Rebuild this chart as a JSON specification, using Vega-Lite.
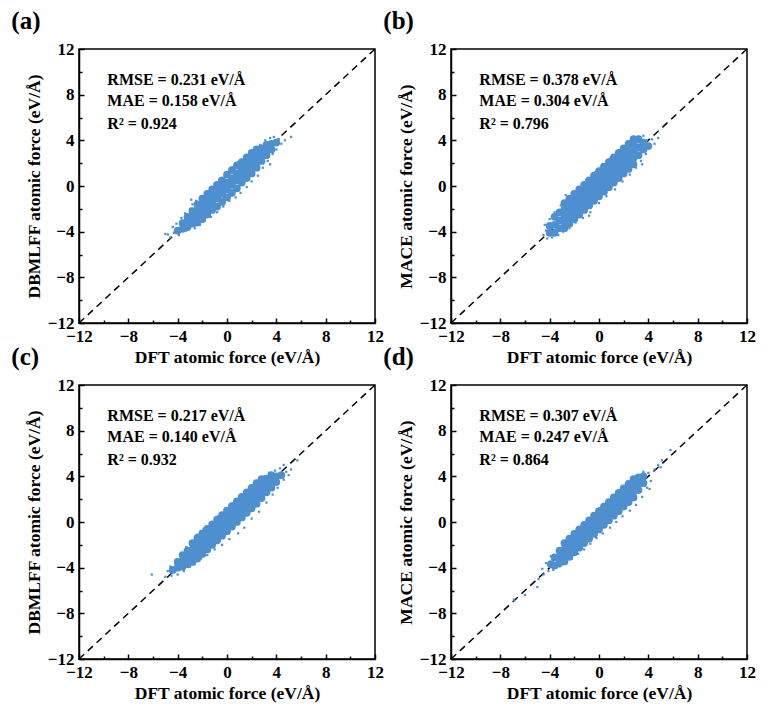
{
  "$schema": "https://vega.github.io/schema/vega-lite/v6.json",
  "description": "Parity plots of predicted vs DFT atomic forces",
  "padding": {"left": 10, "top": 8, "right": 5, "bottom": 5},
  "datasets": {
    "diag": [{"x": -12, "y": -12}, {"x": 12, "y": 12}],
    "a_txt": [
      {"x": -9.7, "y": 9.3, "t": "RMSE = 0.231 eV/Å"},
      {"x": -9.7, "y": 7.45, "t": "MAE = 0.158 eV/Å"},
      {"x": -9.7, "y": 5.45, "t": "R² = 0.924"}
    ],
    "b_txt": [
      {"x": -9.7, "y": 9.3, "t": "RMSE = 0.378 eV/Å"},
      {"x": -9.7, "y": 7.45, "t": "MAE = 0.304 eV/Å"},
      {"x": -9.7, "y": 5.45, "t": "R² = 0.796"}
    ],
    "c_txt": [
      {"x": -9.7, "y": 9.3, "t": "RMSE = 0.217 eV/Å"},
      {"x": -9.7, "y": 7.45, "t": "MAE = 0.140 eV/Å"},
      {"x": -9.7, "y": 5.45, "t": "R² = 0.932"}
    ],
    "d_txt": [
      {"x": -9.7, "y": 9.3, "t": "RMSE = 0.307 eV/Å"},
      {"x": -9.7, "y": 7.45, "t": "MAE = 0.247 eV/Å"},
      {"x": -9.7, "y": 5.45, "t": "R² = 0.864"}
    ],
    "a_core": [
      {"x": -4, "y": -3.9},
      {"x": -3.6, "y": -3.75}, {"x": -3.6, "y": -3.25},
      {"x": -3.2, "y": -3.6}, {"x": -3.2, "y": -3.1}, {"x": -3.2, "y": -2.7},
      {"x": -2.8, "y": -3.3}, {"x": -2.8, "y": -2.8}, {"x": -2.8, "y": -2.2},
      {"x": -2.4, "y": -3.2}, {"x": -2.4, "y": -2.7}, {"x": -2.4, "y": -2.1}, {"x": -2.4, "y": -1.6},
      {"x": -2, "y": -2.9}, {"x": -2, "y": -2.3}, {"x": -2, "y": -1.7}, {"x": -2, "y": -1.1},
      {"x": -1.6, "y": -2.5}, {"x": -1.6, "y": -1.9}, {"x": -1.6, "y": -1.3}, {"x": -1.6, "y": -0.7},
      {"x": -1.2, "y": -2.1}, {"x": -1.2, "y": -1.5}, {"x": -1.2, "y": -0.9}, {"x": -1.2, "y": -0.3},
      {"x": -0.8, "y": -1.8}, {"x": -0.8, "y": -1.1}, {"x": -0.8, "y": -0.5}, {"x": -0.8, "y": 0.1},
      {"x": -0.4, "y": -1.4}, {"x": -0.4, "y": -0.7}, {"x": -0.4, "y": -0.1}, {"x": -0.4, "y": 0.5},
      {"x": 0, "y": -1.0}, {"x": 0, "y": -0.3}, {"x": 0, "y": 0.3}, {"x": 0, "y": 1.0},
      {"x": 0.4, "y": -0.6}, {"x": 0.4, "y": 0.1}, {"x": 0.4, "y": 0.7}, {"x": 0.4, "y": 1.4},
      {"x": 0.8, "y": -0.2}, {"x": 0.8, "y": 0.5}, {"x": 0.8, "y": 1.1}, {"x": 0.8, "y": 1.8},
      {"x": 1.2, "y": 0.3}, {"x": 1.2, "y": 0.9}, {"x": 1.2, "y": 1.5}, {"x": 1.2, "y": 2.1},
      {"x": 1.6, "y": 0.7}, {"x": 1.6, "y": 1.3}, {"x": 1.6, "y": 1.9}, {"x": 1.6, "y": 2.5},
      {"x": 2, "y": 1.1}, {"x": 2, "y": 1.7}, {"x": 2, "y": 2.3}, {"x": 2, "y": 2.9},
      {"x": 2.4, "y": 1.6}, {"x": 2.4, "y": 2.1}, {"x": 2.4, "y": 2.7}, {"x": 2.4, "y": 3.2},
      {"x": 2.8, "y": 2.2}, {"x": 2.8, "y": 2.8}, {"x": 2.8, "y": 3.3},
      {"x": 3.2, "y": 2.7}, {"x": 3.2, "y": 3.1}, {"x": 3.2, "y": 3.6},
      {"x": 3.6, "y": 3.2}, {"x": 3.6, "y": 3.7},
      {"x": 4, "y": 3.8}
    ],
    "a_edge": [
      {"x": -5.0, "y": -4.2}, {"x": -4.8, "y": -4.25}, {"x": -4.6, "y": -4.5}, {"x": -4.4, "y": -3.6},
      {"x": -4.3, "y": -4.1}, {"x": -4.1, "y": -3.3}, {"x": -3.9, "y": -4.3}, {"x": -3.7, "y": -2.8},
      {"x": -3.4, "y": -2.4}, {"x": -3.3, "y": -3.9}, {"x": -3.0, "y": -2.0}, {"x": -2.8, "y": -1.6},
      {"x": -2.6, "y": -3.7}, {"x": -2.5, "y": -1.3}, {"x": -2.2, "y": -3.4}, {"x": -2.0, "y": -0.9},
      {"x": -1.8, "y": -3.0}, {"x": -1.5, "y": -0.5}, {"x": -1.3, "y": -2.7}, {"x": -1.0, "y": 0.2},
      {"x": -0.8, "y": -2.3}, {"x": -0.6, "y": 0.6}, {"x": -0.3, "y": -1.8}, {"x": -0.1, "y": 1.1},
      {"x": 0.2, "y": -1.3}, {"x": 0.5, "y": 1.6}, {"x": 0.7, "y": -1.0}, {"x": 0.9, "y": 2.1},
      {"x": 1.1, "y": -0.6}, {"x": 1.4, "y": 2.5}, {"x": 1.6, "y": -0.1}, {"x": 1.8, "y": 2.9},
      {"x": 2.0, "y": 0.4}, {"x": 2.3, "y": 3.3}, {"x": 2.5, "y": 0.9}, {"x": 2.7, "y": 3.6},
      {"x": 2.9, "y": 1.6}, {"x": 3.1, "y": 4.0}, {"x": 3.3, "y": 2.2}, {"x": 3.5, "y": 4.2},
      {"x": 3.7, "y": 2.8}, {"x": 3.8, "y": 4.3}, {"x": 4.0, "y": 3.2}, {"x": 4.2, "y": 4.1},
      {"x": 4.4, "y": 3.7}, {"x": 4.7, "y": 4.0}, {"x": 5.2, "y": 4.3}, {"x": 3.5, "y": 1.9},
      {"x": -2.9, "y": -1.2}
    ],
    "b_core": [
      {"x": -4, "y": -4.1}, {"x": -4, "y": -3.5},
      {"x": -3.6, "y": -4.1}, {"x": -3.6, "y": -3.4}, {"x": -3.6, "y": -2.7},
      {"x": -3.2, "y": -3.7}, {"x": -3.2, "y": -3.0}, {"x": -3.2, "y": -2.3},
      {"x": -2.8, "y": -3.7}, {"x": -2.8, "y": -3.15}, {"x": -2.8, "y": -2.6}, {"x": -2.8, "y": -2.05}, {"x": -2.8, "y": -1.5},
      {"x": -2.4, "y": -3.3}, {"x": -2.4, "y": -2.75}, {"x": -2.4, "y": -2.2}, {"x": -2.4, "y": -1.65}, {"x": -2.4, "y": -1.1},
      {"x": -2, "y": -2.9}, {"x": -2, "y": -2.35}, {"x": -2, "y": -1.8}, {"x": -2, "y": -1.25}, {"x": -2, "y": -0.7},
      {"x": -1.6, "y": -2.5}, {"x": -1.6, "y": -1.95}, {"x": -1.6, "y": -1.4}, {"x": -1.6, "y": -0.85}, {"x": -1.6, "y": -0.3},
      {"x": -1.2, "y": -2.1}, {"x": -1.2, "y": -1.55}, {"x": -1.2, "y": -1.0}, {"x": -1.2, "y": -0.45}, {"x": -1.2, "y": 0.1},
      {"x": -0.8, "y": -1.7}, {"x": -0.8, "y": -1.15}, {"x": -0.8, "y": -0.6}, {"x": -0.8, "y": -0.05}, {"x": -0.8, "y": 0.5},
      {"x": -0.4, "y": -1.3}, {"x": -0.4, "y": -0.75}, {"x": -0.4, "y": -0.2}, {"x": -0.4, "y": 0.35}, {"x": -0.4, "y": 0.9},
      {"x": 0, "y": -0.9}, {"x": 0, "y": -0.35}, {"x": 0, "y": 0.2}, {"x": 0, "y": 0.75}, {"x": 0, "y": 1.3},
      {"x": 0.4, "y": -0.5}, {"x": 0.4, "y": 0.05}, {"x": 0.4, "y": 0.6}, {"x": 0.4, "y": 1.15}, {"x": 0.4, "y": 1.7},
      {"x": 0.8, "y": -0.1}, {"x": 0.8, "y": 0.45}, {"x": 0.8, "y": 1.0}, {"x": 0.8, "y": 1.55}, {"x": 0.8, "y": 2.1},
      {"x": 1.2, "y": 0.3}, {"x": 1.2, "y": 0.85}, {"x": 1.2, "y": 1.4}, {"x": 1.2, "y": 1.95}, {"x": 1.2, "y": 2.5},
      {"x": 1.6, "y": 0.7}, {"x": 1.6, "y": 1.25}, {"x": 1.6, "y": 1.8}, {"x": 1.6, "y": 2.35}, {"x": 1.6, "y": 2.9},
      {"x": 2, "y": 1.1}, {"x": 2, "y": 1.65}, {"x": 2, "y": 2.2}, {"x": 2, "y": 2.75}, {"x": 2, "y": 3.3},
      {"x": 2.4, "y": 1.5}, {"x": 2.4, "y": 2.05}, {"x": 2.4, "y": 2.6}, {"x": 2.4, "y": 3.15}, {"x": 2.4, "y": 3.7},
      {"x": 2.8, "y": 1.9}, {"x": 2.8, "y": 2.45}, {"x": 2.8, "y": 3.0}, {"x": 2.8, "y": 3.55}, {"x": 2.8, "y": 4.1},
      {"x": 3.2, "y": 2.7}, {"x": 3.2, "y": 3.4}, {"x": 3.2, "y": 4.1},
      {"x": 3.6, "y": 3.2}, {"x": 3.6, "y": 3.8},
      {"x": 4, "y": 3.5}
    ],
    "b_edge": [
      {"x": -4.5, "y": -4.3}, {"x": -4.4, "y": -3.4}, {"x": -4.3, "y": -3.9}, {"x": -4.2, "y": -4.6},
      {"x": -4.0, "y": -2.9}, {"x": -3.8, "y": -4.5}, {"x": -3.6, "y": -2.3}, {"x": -3.3, "y": -4.3},
      {"x": -3.1, "y": -1.7}, {"x": -2.9, "y": -4.0}, {"x": -2.6, "y": -1.2}, {"x": -2.4, "y": -3.7},
      {"x": -2.1, "y": -0.6}, {"x": -1.9, "y": -3.2}, {"x": -1.6, "y": -0.1}, {"x": -1.3, "y": -2.8},
      {"x": -1.0, "y": 0.5}, {"x": -0.7, "y": -2.3}, {"x": -0.3, "y": 1.2}, {"x": 0.0, "y": -1.5},
      {"x": 0.3, "y": 1.8}, {"x": 0.6, "y": -0.9}, {"x": 0.9, "y": 2.4}, {"x": 1.3, "y": -0.3},
      {"x": 1.5, "y": 2.9}, {"x": 1.9, "y": 0.4}, {"x": 2.1, "y": 3.4}, {"x": 2.5, "y": 1.0},
      {"x": 2.7, "y": 3.9}, {"x": 3.0, "y": 1.6}, {"x": 3.2, "y": 4.3}, {"x": 3.4, "y": 2.2},
      {"x": 3.6, "y": 4.4}, {"x": 3.8, "y": 2.8}, {"x": 3.9, "y": 4.0}, {"x": 4.1, "y": 3.4},
      {"x": 4.3, "y": 4.1}, {"x": 4.5, "y": 3.7}, {"x": 4.8, "y": 4.2}, {"x": 3.5, "y": 1.9},
      {"x": -0.8, "y": -2.6}, {"x": -2.7, "y": -0.8}
    ],
    "c_core": [
      {"x": -4.4, "y": -4.2},
      {"x": -4, "y": -4.0}, {"x": -4, "y": -3.5},
      {"x": -3.6, "y": -3.9}, {"x": -3.6, "y": -3.4}, {"x": -3.6, "y": -2.9},
      {"x": -3.2, "y": -3.7}, {"x": -3.2, "y": -3.1}, {"x": -3.2, "y": -2.5},
      {"x": -2.8, "y": -3.5}, {"x": -2.8, "y": -2.95}, {"x": -2.8, "y": -2.4}, {"x": -2.8, "y": -1.85},
      {"x": -2.4, "y": -3.2}, {"x": -2.4, "y": -2.6}, {"x": -2.4, "y": -2.0}, {"x": -2.4, "y": -1.4},
      {"x": -2, "y": -2.8}, {"x": -2, "y": -2.2}, {"x": -2, "y": -1.6}, {"x": -2, "y": -1.0},
      {"x": -1.6, "y": -2.4}, {"x": -1.6, "y": -1.8}, {"x": -1.6, "y": -1.2}, {"x": -1.6, "y": -0.6},
      {"x": -1.2, "y": -2.0}, {"x": -1.2, "y": -1.4}, {"x": -1.2, "y": -0.8}, {"x": -1.2, "y": -0.2},
      {"x": -0.8, "y": -1.6}, {"x": -0.8, "y": -1.0}, {"x": -0.8, "y": -0.4}, {"x": -0.8, "y": 0.2},
      {"x": -0.4, "y": -1.2}, {"x": -0.4, "y": -0.6}, {"x": -0.4, "y": 0.0}, {"x": -0.4, "y": 0.6},
      {"x": 0, "y": -0.8}, {"x": 0, "y": -0.2}, {"x": 0, "y": 0.4}, {"x": 0, "y": 1.0},
      {"x": 0.4, "y": -0.4}, {"x": 0.4, "y": 0.2}, {"x": 0.4, "y": 0.8}, {"x": 0.4, "y": 1.4},
      {"x": 0.8, "y": 0.0}, {"x": 0.8, "y": 0.6}, {"x": 0.8, "y": 1.2}, {"x": 0.8, "y": 1.8},
      {"x": 1.2, "y": 0.4}, {"x": 1.2, "y": 1.0}, {"x": 1.2, "y": 1.6}, {"x": 1.2, "y": 2.2},
      {"x": 1.6, "y": 0.8}, {"x": 1.6, "y": 1.4}, {"x": 1.6, "y": 2.0}, {"x": 1.6, "y": 2.6},
      {"x": 2, "y": 1.2}, {"x": 2, "y": 1.8}, {"x": 2, "y": 2.4}, {"x": 2, "y": 3.0},
      {"x": 2.4, "y": 1.6}, {"x": 2.4, "y": 2.2}, {"x": 2.4, "y": 2.8}, {"x": 2.4, "y": 3.4},
      {"x": 2.8, "y": 2.1}, {"x": 2.8, "y": 2.65}, {"x": 2.8, "y": 3.2}, {"x": 2.8, "y": 3.75},
      {"x": 3.2, "y": 2.6}, {"x": 3.2, "y": 3.2}, {"x": 3.2, "y": 3.8},
      {"x": 3.6, "y": 3.0}, {"x": 3.6, "y": 3.6}, {"x": 3.6, "y": 4.1},
      {"x": 4, "y": 3.5}, {"x": 4, "y": 4.0},
      {"x": 4.4, "y": 4.1}
    ],
    "c_edge": [
      {"x": -6.1, "y": -4.6}, {"x": -5.0, "y": -4.8}, {"x": -4.8, "y": -4.3}, {"x": -4.6, "y": -3.9},
      {"x": -4.5, "y": -4.7}, {"x": -4.2, "y": -3.4}, {"x": -4.0, "y": -4.6}, {"x": -3.8, "y": -2.8},
      {"x": -3.5, "y": -4.3}, {"x": -3.3, "y": -2.2}, {"x": -3.0, "y": -3.9}, {"x": -2.9, "y": -1.8},
      {"x": -2.6, "y": -3.6}, {"x": -2.4, "y": -1.1}, {"x": -2.1, "y": -3.2}, {"x": -1.9, "y": -0.6},
      {"x": -1.6, "y": -2.9}, {"x": -1.3, "y": 0.0}, {"x": -1.0, "y": -2.4}, {"x": -0.7, "y": 0.5},
      {"x": -0.4, "y": -2.0}, {"x": -0.1, "y": 1.0}, {"x": 0.2, "y": -1.5}, {"x": 0.5, "y": 1.6},
      {"x": 0.9, "y": -1.0}, {"x": 1.1, "y": 2.2}, {"x": 1.4, "y": -0.5}, {"x": 1.7, "y": 2.8},
      {"x": 2.0, "y": 0.3}, {"x": 2.3, "y": 3.3}, {"x": 2.6, "y": 0.9}, {"x": 2.9, "y": 3.9},
      {"x": 3.2, "y": 1.7}, {"x": 3.4, "y": 4.3}, {"x": 3.7, "y": 2.4}, {"x": 3.9, "y": 4.5},
      {"x": 4.1, "y": 3.0}, {"x": 4.3, "y": 4.7}, {"x": 4.6, "y": 3.7}, {"x": 4.8, "y": 4.4},
      {"x": 5.0, "y": 4.1}, {"x": 5.2, "y": 4.6}, {"x": 5.7, "y": 5.4}, {"x": 4.6, "y": 5.0}
    ],
    "d_core": [
      {"x": -3.9, "y": -3.7},
      {"x": -3.6, "y": -3.8}, {"x": -3.6, "y": -3.1},
      {"x": -3.2, "y": -3.6}, {"x": -3.2, "y": -3.05}, {"x": -3.2, "y": -2.5},
      {"x": -2.8, "y": -3.45}, {"x": -2.8, "y": -2.9}, {"x": -2.8, "y": -2.4}, {"x": -2.8, "y": -1.85},
      {"x": -2.4, "y": -3.05}, {"x": -2.4, "y": -2.5}, {"x": -2.4, "y": -2.0}, {"x": -2.4, "y": -1.45},
      {"x": -2, "y": -2.65}, {"x": -2, "y": -2.1}, {"x": -2, "y": -1.6}, {"x": -2, "y": -1.05},
      {"x": -1.6, "y": -2.25}, {"x": -1.6, "y": -1.7}, {"x": -1.6, "y": -1.2}, {"x": -1.6, "y": -0.65},
      {"x": -1.2, "y": -1.85}, {"x": -1.2, "y": -1.3}, {"x": -1.2, "y": -0.8}, {"x": -1.2, "y": -0.25},
      {"x": -0.8, "y": -1.45}, {"x": -0.8, "y": -0.9}, {"x": -0.8, "y": -0.4}, {"x": -0.8, "y": 0.15},
      {"x": -0.4, "y": -1.05}, {"x": -0.4, "y": -0.5}, {"x": -0.4, "y": 0.0}, {"x": -0.4, "y": 0.55},
      {"x": 0, "y": -0.65}, {"x": 0, "y": -0.1}, {"x": 0, "y": 0.4}, {"x": 0, "y": 0.95},
      {"x": 0.4, "y": -0.25}, {"x": 0.4, "y": 0.3}, {"x": 0.4, "y": 0.8}, {"x": 0.4, "y": 1.35},
      {"x": 0.8, "y": 0.15}, {"x": 0.8, "y": 0.7}, {"x": 0.8, "y": 1.2}, {"x": 0.8, "y": 1.75},
      {"x": 1.2, "y": 0.55}, {"x": 1.2, "y": 1.1}, {"x": 1.2, "y": 1.6}, {"x": 1.2, "y": 2.15},
      {"x": 1.6, "y": 0.95}, {"x": 1.6, "y": 1.5}, {"x": 1.6, "y": 2.0}, {"x": 1.6, "y": 2.55},
      {"x": 2, "y": 1.35}, {"x": 2, "y": 1.9}, {"x": 2, "y": 2.4}, {"x": 2, "y": 2.95},
      {"x": 2.4, "y": 1.75}, {"x": 2.4, "y": 2.3}, {"x": 2.4, "y": 2.8}, {"x": 2.4, "y": 3.35},
      {"x": 2.8, "y": 2.15}, {"x": 2.8, "y": 2.7}, {"x": 2.8, "y": 3.2}, {"x": 2.8, "y": 3.75},
      {"x": 3.2, "y": 2.8}, {"x": 3.2, "y": 3.35}, {"x": 3.2, "y": 3.9},
      {"x": 3.6, "y": 3.4}, {"x": 3.6, "y": 4.0}
    ],
    "d_edge": [
      {"x": -6.9, "y": -6.8}, {"x": -6.0, "y": -6.4}, {"x": -5.0, "y": -5.7}, {"x": -4.9, "y": -5.0},
      {"x": -4.6, "y": -4.1}, {"x": -4.5, "y": -4.6}, {"x": -4.3, "y": -3.6}, {"x": -4.1, "y": -4.3},
      {"x": -3.9, "y": -3.0}, {"x": -3.7, "y": -4.2}, {"x": -3.4, "y": -2.5}, {"x": -3.2, "y": -3.9},
      {"x": -2.9, "y": -1.9}, {"x": -2.7, "y": -3.6}, {"x": -2.4, "y": -1.4}, {"x": -2.2, "y": -3.2},
      {"x": -1.9, "y": -0.9}, {"x": -1.7, "y": -2.8}, {"x": -1.4, "y": -0.4}, {"x": -1.2, "y": -2.4},
      {"x": -0.9, "y": 0.2}, {"x": -0.7, "y": -1.9}, {"x": -0.4, "y": 0.7}, {"x": -0.2, "y": -1.4},
      {"x": 0.1, "y": 1.2}, {"x": 0.3, "y": -1.0}, {"x": 0.6, "y": 1.7}, {"x": 0.9, "y": -0.5},
      {"x": 1.1, "y": 2.2}, {"x": 1.4, "y": 0.0}, {"x": 1.7, "y": 2.7}, {"x": 1.9, "y": 0.5},
      {"x": 2.2, "y": 3.2}, {"x": 2.5, "y": 1.0}, {"x": 2.7, "y": 3.7}, {"x": 3.0, "y": 1.5},
      {"x": 3.2, "y": 4.1}, {"x": 3.5, "y": 2.2}, {"x": 3.6, "y": 4.4}, {"x": 3.9, "y": 3.0},
      {"x": 4.0, "y": 4.3}, {"x": 4.2, "y": 3.6}, {"x": 4.5, "y": 4.6}, {"x": 4.8, "y": 5.0},
      {"x": 5.1, "y": 5.4}, {"x": 5.0, "y": 4.8}, {"x": 5.8, "y": 6.3}, {"x": 4.1, "y": 2.9}
    ]
  },
  "columns": 2,
  "spacing": {"column": 76, "row": 62},
  "bounds": "flush",
  "concat": [
    {
      "title": "(a)",
      "width": 296,
      "height": 274,
      "layer": [
        {
          "data": {"name": "diag"},
          "mark": {"type": "line", "color": "black", "strokeWidth": 1.5, "strokeDash": [7, 5]},
          "encoding": {
            "x": {"field": "x", "type": "quantitative", "scale": {"domain": [-12, 12]}, "axis": {"values": [-10, -6, -2, 2, 6, 10], "orient": "bottom", "labels": false, "domain": false, "tickSize": -3, "title": null}},
            "y": {"field": "y", "type": "quantitative", "scale": {"domain": [-12, 12]}, "axis": {"values": [-10, -6, -2, 2, 6, 10], "orient": "left", "labels": false, "domain": false, "tickSize": -3, "title": null}}
          }
        },
        {
          "data": {"name": "a_core"},
          "mark": {"type": "circle", "size": 60, "color": "#4e8fd0", "opacity": 1},
          "encoding": {
            "x": {"field": "x", "type": "quantitative",
                  "axis": {"orient": "bottom", "values": [-12, -8, -4, 0, 4, 8, 12], "title": "DFT atomic force (eV/Å)"}},
            "y": {"field": "y", "type": "quantitative",
                  "axis": {"orient": "left", "values": [-12, -8, -4, 0, 4, 8, 12], "title": "DBMLFF atomic force (eV/Å)"}}
          }
        },
        {
          "data": {"name": "a_edge"},
          "mark": {"type": "square", "size": 5, "color": "#4e8fd0", "opacity": 1},
          "encoding": {
            "x": {"field": "x", "type": "quantitative", "axis": null},
            "y": {"field": "y", "type": "quantitative", "axis": null}
          }
        },
        {
          "data": {"name": "a_txt"},
          "mark": {"type": "text", "align": "left", "baseline": "middle", "font": "Liberation Serif", "fontSize": 16, "fontWeight": "bold", "color": "black"},
          "encoding": {
            "x": {"field": "x", "type": "quantitative", "axis": null},
            "y": {"field": "y", "type": "quantitative", "axis": null},
            "text": {"field": "t"}
          }
        }
      ],
      "resolve": {"axis": {"x": "independent", "y": "independent"}}
    },
    {
      "title": "(b)",
      "width": 296,
      "height": 274,
      "layer": [
        {
          "data": {"name": "diag"},
          "mark": {"type": "line", "color": "black", "strokeWidth": 1.5, "strokeDash": [7, 5]},
          "encoding": {
            "x": {"field": "x", "type": "quantitative", "scale": {"domain": [-12, 12]}, "axis": {"values": [-10, -6, -2, 2, 6, 10], "orient": "bottom", "labels": false, "domain": false, "tickSize": -3, "title": null}},
            "y": {"field": "y", "type": "quantitative", "scale": {"domain": [-12, 12]}, "axis": {"values": [-10, -6, -2, 2, 6, 10], "orient": "left", "labels": false, "domain": false, "tickSize": -3, "title": null}}
          }
        },
        {
          "data": {"name": "b_core"},
          "mark": {"type": "circle", "size": 60, "color": "#4e8fd0", "opacity": 1},
          "encoding": {
            "x": {"field": "x", "type": "quantitative",
                  "axis": {"orient": "bottom", "values": [-12, -8, -4, 0, 4, 8, 12], "title": "DFT atomic force (eV/Å)"}},
            "y": {"field": "y", "type": "quantitative",
                  "axis": {"orient": "left", "values": [-12, -8, -4, 0, 4, 8, 12], "title": "MACE atomic force (eV/Å)"}}
          }
        },
        {
          "data": {"name": "b_edge"},
          "mark": {"type": "square", "size": 5, "color": "#4e8fd0", "opacity": 1},
          "encoding": {
            "x": {"field": "x", "type": "quantitative", "axis": null},
            "y": {"field": "y", "type": "quantitative", "axis": null}
          }
        },
        {
          "data": {"name": "b_txt"},
          "mark": {"type": "text", "align": "left", "baseline": "middle", "font": "Liberation Serif", "fontSize": 16, "fontWeight": "bold", "color": "black"},
          "encoding": {
            "x": {"field": "x", "type": "quantitative", "axis": null},
            "y": {"field": "y", "type": "quantitative", "axis": null},
            "text": {"field": "t"}
          }
        }
      ],
      "resolve": {"axis": {"x": "independent", "y": "independent"}}
    },
    {
      "title": "(c)",
      "width": 296,
      "height": 274,
      "layer": [
        {
          "data": {"name": "diag"},
          "mark": {"type": "line", "color": "black", "strokeWidth": 1.5, "strokeDash": [7, 5]},
          "encoding": {
            "x": {"field": "x", "type": "quantitative", "scale": {"domain": [-12, 12]}, "axis": {"values": [-10, -6, -2, 2, 6, 10], "orient": "bottom", "labels": false, "domain": false, "tickSize": -3, "title": null}},
            "y": {"field": "y", "type": "quantitative", "scale": {"domain": [-12, 12]}, "axis": {"values": [-10, -6, -2, 2, 6, 10], "orient": "left", "labels": false, "domain": false, "tickSize": -3, "title": null}}
          }
        },
        {
          "data": {"name": "c_core"},
          "mark": {"type": "circle", "size": 60, "color": "#4e8fd0", "opacity": 1},
          "encoding": {
            "x": {"field": "x", "type": "quantitative",
                  "axis": {"orient": "bottom", "values": [-12, -8, -4, 0, 4, 8, 12], "title": "DFT atomic force (eV/Å)"}},
            "y": {"field": "y", "type": "quantitative",
                  "axis": {"orient": "left", "values": [-12, -8, -4, 0, 4, 8, 12], "title": "DBMLFF atomic force (eV/Å)"}}
          }
        },
        {
          "data": {"name": "c_edge"},
          "mark": {"type": "square", "size": 5, "color": "#4e8fd0", "opacity": 1},
          "encoding": {
            "x": {"field": "x", "type": "quantitative", "axis": null},
            "y": {"field": "y", "type": "quantitative", "axis": null}
          }
        },
        {
          "data": {"name": "c_txt"},
          "mark": {"type": "text", "align": "left", "baseline": "middle", "font": "Liberation Serif", "fontSize": 16, "fontWeight": "bold", "color": "black"},
          "encoding": {
            "x": {"field": "x", "type": "quantitative", "axis": null},
            "y": {"field": "y", "type": "quantitative", "axis": null},
            "text": {"field": "t"}
          }
        }
      ],
      "resolve": {"axis": {"x": "independent", "y": "independent"}}
    },
    {
      "title": "(d)",
      "width": 296,
      "height": 274,
      "layer": [
        {
          "data": {"name": "diag"},
          "mark": {"type": "line", "color": "black", "strokeWidth": 1.5, "strokeDash": [7, 5]},
          "encoding": {
            "x": {"field": "x", "type": "quantitative", "scale": {"domain": [-12, 12]}, "axis": {"values": [-10, -6, -2, 2, 6, 10], "orient": "bottom", "labels": false, "domain": false, "tickSize": -3, "title": null}},
            "y": {"field": "y", "type": "quantitative", "scale": {"domain": [-12, 12]}, "axis": {"values": [-10, -6, -2, 2, 6, 10], "orient": "left", "labels": false, "domain": false, "tickSize": -3, "title": null}}
          }
        },
        {
          "data": {"name": "d_core"},
          "mark": {"type": "circle", "size": 60, "color": "#4e8fd0", "opacity": 1},
          "encoding": {
            "x": {"field": "x", "type": "quantitative",
                  "axis": {"orient": "bottom", "values": [-12, -8, -4, 0, 4, 8, 12], "title": "DFT atomic force (eV/Å)"}},
            "y": {"field": "y", "type": "quantitative",
                  "axis": {"orient": "left", "values": [-12, -8, -4, 0, 4, 8, 12], "title": "MACE atomic force (eV/Å)"}}
          }
        },
        {
          "data": {"name": "d_edge"},
          "mark": {"type": "square", "size": 5, "color": "#4e8fd0", "opacity": 1},
          "encoding": {
            "x": {"field": "x", "type": "quantitative", "axis": null},
            "y": {"field": "y", "type": "quantitative", "axis": null}
          }
        },
        {
          "data": {"name": "d_txt"},
          "mark": {"type": "text", "align": "left", "baseline": "middle", "font": "Liberation Serif", "fontSize": 16, "fontWeight": "bold", "color": "black"},
          "encoding": {
            "x": {"field": "x", "type": "quantitative", "axis": null},
            "y": {"field": "y", "type": "quantitative", "axis": null},
            "text": {"field": "t"}
          }
        }
      ],
      "resolve": {"axis": {"x": "independent", "y": "independent"}}
    }
  ],
  "config": {
    "font": "Liberation Serif",
    "view": {"stroke": "black", "strokeWidth": 1.5},
    "axis": {
      "grid": false,
      "domainColor": "black",
      "domainWidth": 1.5,
      "tickColor": "black",
      "tickWidth": 1.5,
      "tickSize": -5,
      "labelPadding": 10,
      "labelFlush": false,
      "labelOverlap": false,
      "labelFont": "Liberation Serif",
      "labelFontSize": 17,
      "labelFontWeight": "bold",
      "labelColor": "black",
      "titleFont": "Liberation Serif",
      "titleFontSize": 17.5,
      "titleFontWeight": "bold",
      "titleColor": "black",
      "titlePadding": 4
    },
    "title": {
      "font": "Liberation Serif",
      "fontSize": 25,
      "fontWeight": "bold",
      "color": "black",
      "anchor": "start",
      "dx": -14,
      "offset": 6
    }
  }
}
